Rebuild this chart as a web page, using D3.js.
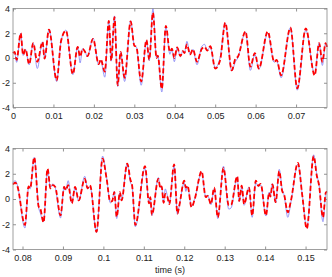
<!DOCTYPE html>
<html>
<head>
<meta charset="utf-8">
<script src="https://cdn.jsdelivr.net/npm/d3@7"></script>
<style>
  body { margin: 0; background: #fff; }
  svg { display: block; font-family: "Liberation Sans", Arial, sans-serif; }
  .tick text { font-size: 9px; fill: #222; }
  .domain { display: none; }
  .tick line { stroke: #777; stroke-width: 0.8; }
</style>
</head>
<body>
<svg id="chart" width="332" height="277"></svg>
<script>
// top panel: 0 .. 0.0777 s
var topTime = [0, 0.0004, 0.0009, 0.0019, 0.0025, 0.0031, 0.0040, 0.0050, 0.0060, 0.0073,
  0.0078, 0.0089, 0.0108, 0.0119, 0.0131, 0.0148, 0.0160, 0.0166, 0.0172, 0.0179,
  0.0184, 0.0198, 0.0212, 0.0217, 0.0227, 0.0237, 0.0243, 0.0251, 0.0259, 0.0266,
  0.0276, 0.0291, 0.0300, 0.0305, 0.0317, 0.0330, 0.0337, 0.0346, 0.0355, 0.0358,
  0.0368, 0.0378, 0.0388, 0.0393, 0.0399, 0.0406, 0.0414, 0.0420, 0.0424, 0.0430,
  0.0438, 0.0445, 0.0455, 0.0467, 0.0474, 0.0480, 0.0488, 0.0500, 0.0512, 0.0525,
  0.0541, 0.0550, 0.0556, 0.0575, 0.0587, 0.0598, 0.0608, 0.0630, 0.0646, 0.0652,
  0.0663, 0.0686, 0.0703, 0.0724, 0.0746, 0.0757, 0.0765, 0.0773, 0.07765];
var topRed = [0.4, 0.5, -0.15, 2.0, 0.25, 0.7, -0.5, 1.2, -0.3, 1.3,
  -0.05, 2.3, -1.8, 1.4, 2.2, -1.3, 0.9, 0.1, 0.75, 0.45,
  0.15, 1.55, -0.5, -0.1, -1.1, 3.0, -0.2, 3.3, -2.2, 0.5,
  -1.6, 2.95, 1.0, 0.9, -1.9, 1.45, -0.15, 3.65, 0.0, 0.2,
  -2.5, 2.6, 0.5, 0.75, 0.0, 0.85, 0.15, 0.55, 0.4, 1.1,
  0.3, 0.7, -0.3, 0.75, 0.9, 0.6, 0.95, -0.85, -0.2, 2.85,
  -1.0, -0.05, 0.1, 2.15, -0.7, 0.4, -0.85, 2.15, -0.3, -0.15,
  -1.4, 2.45, -2.45, 2.4, -1.4, 1.2, -0.3, 1.2, 0.9];
var topBlue = [0.4, 0.45, -0.35, 2.0, 0.2, 0.7, -0.55, 1.2, -0.85, 1.3,
  -0.05, 2.3, -1.9, 1.4, 2.25, -1.35, 0.9, -0.4, 0.75, 0.45,
  0.1, 1.6, -0.55, -0.2, -1.55, 3.0, -0.25, 3.4, -2.3, 0.45,
  -1.9, 3.0, 1.0, 0.9, -2.2, 1.4, -0.2, 4.0, 0.0, 0.2,
  -2.75, 2.5, 0.3, 0.7, -0.3, 0.85, 0.1, 0.6, 0.4, 1.35,
  0.3, 0.7, -0.55, 0.95, 1.1, 0.6, 0.9, -0.8, 0.0, 2.8,
  -1.05, -0.3, 0.0, 2.1, -1.0, 0.3, -0.9, 2.0, -0.35, -0.2,
  -1.6, 2.45, -2.6, 2.25, -1.3, 1.2, -0.6, 1.2, 0.9];

// bottom panel: 0.0777 .. 0.1553 s
var botTime = [0.07765, 0.0782, 0.0787, 0.0806, 0.0815, 0.0819, 0.0829, 0.0840, 0.0844, 0.0852,
  0.0862, 0.0869, 0.0875, 0.0881, 0.0894, 0.0903, 0.0907, 0.0913, 0.0922, 0.0930,
  0.0939, 0.0954, 0.0961, 0.0967, 0.0983, 0.0998, 0.1008, 0.1017, 0.1022, 0.1027,
  0.1033, 0.1041, 0.1045, 0.1059, 0.1067, 0.1071, 0.1079, 0.1103, 0.1113, 0.1116,
  0.1120, 0.1136, 0.1141, 0.1144, 0.1149, 0.1153, 0.1158, 0.1163, 0.1175, 0.1183,
  0.1188, 0.1200, 0.1204, 0.1208, 0.1218, 0.1226, 0.1243, 0.1253, 0.1258, 0.1266,
  0.1274, 0.1283, 0.1297, 0.1310, 0.1316, 0.1331, 0.1336, 0.1342, 0.1348, 0.1360,
  0.1368, 0.1377, 0.1383, 0.1389, 0.1402, 0.1410, 0.1413, 0.1418, 0.1426, 0.1435,
  0.1442, 0.1447, 0.1456, 0.1464, 0.1481, 0.1492, 0.1503, 0.1520, 0.1528, 0.1533,
  0.1543, 0.1550, 0.1553];
var botRed = [1.15, 1.3, 1.05, -2.05, 1.0, 0.85, 3.3, -0.6, -0.75, -1.85,
  2.4, 0.85, 1.1, 0.95, -1.3, 0.95, 0.7, 1.1, -0.35, 0.95,
  -0.1, 1.6, 0.85, 1.1, -2.6, 3.2, 1.6, -0.2, -0.15, 0.55,
  -1.4, 0.55, -0.1, 2.8, 1.5, 1.1, -2.05, 2.6, -0.35, 0.15,
  -1.25, 1.6, 0.85, 1.0, -0.3, 0.4, 0.2, -0.4, 2.75, -1.15,
  -0.5, 1.45, 0.9, 1.05, -0.65, 0.0, 2.2, 0.15, 0.25, -0.4,
  0.9, -1.45, 2.45, -0.5, -0.45, 1.8, -0.15, 1.05, -0.4, 0.9,
  -1.3, 1.45, 1.05, 1.2, -1.3, 0.5, 0.2, 1.15, -0.25, 2.2,
  0.65, 0.35, -1.05, -0.1, 2.85, 0.25, -2.35, 3.4, 1.8, 1.15,
  -1.45, 0.5, 0.6];
var botBlue = [1.3, 1.45, 1.15, -2.3, 0.9, 0.8, 3.3, -0.7, -1.1, -1.8,
  2.3, 0.9, 1.2, 0.9, -1.5, 1.0, 0.7, 1.45, -0.3, 0.9,
  -0.15, 1.8, 0.8, 1.0, -2.65, 3.4, 1.7, -0.3, -0.1, 0.6,
  -1.55, 0.5, -0.1, 2.8, 1.3, 1.0, -2.2, 2.45, -0.3, 0.1,
  -1.3, 1.7, 0.9, 1.0, -0.3, 0.8, 0.3, -0.35, 2.65, -1.2,
  -0.45, 1.3, 0.6, 1.0, -0.6, 0.05, 2.1, 0.2, 0.3, -0.45,
  0.8, -1.55, 2.6, -0.8, -0.7, 1.75, -0.2, 0.95, -0.5, 0.95,
  -1.45, 1.3, 1.0, 1.1, -1.35, 0.55, 0.25, 1.2, -0.3, 2.35,
  0.8, 0.3, -1.45, -0.2, 2.75, 0.3, -2.3, 3.5, 1.9, 1.2,
  -1.8, 0.45, 0.6];

var topTicks = [0, 0.01, 0.02, 0.03, 0.04, 0.05, 0.06, 0.07];
var botTicks = [0.08, 0.09, 0.1, 0.11, 0.12, 0.13, 0.14, 0.15];
var yTicks = [-4, -2, 0, 2, 4];

var svg = d3.select('#chart');
var left = 13, right = 327;

function renderPanel(time, red, blue, domain, top, bottom, xTicks) {
  var x = d3.scaleLinear().domain(domain).range([left, right]);
  var y = d3.scaleLinear().domain([-4, 4]).range([bottom, top]);
  var g = svg.append('g');

  g.append('rect')
    .attr('x', left).attr('y', top)
    .attr('width', right - left).attr('height', bottom - top)
    .attr('fill', '#fff');

  var fmt = d => String(+d.toFixed(2));

  g.append('g')
    .attr('transform', `translate(0,${bottom})`)
    .call(d3.axisBottom(x).tickValues(xTicks).tickFormat(fmt).tickSize(-3).tickPadding(5));
  g.append('g')
    .attr('transform', `translate(0,${top})`)
    .call(d3.axisTop(x).tickValues(xTicks).tickFormat('').tickSize(-3));
  g.append('g')
    .attr('transform', `translate(${left},0)`)
    .call(d3.axisLeft(y).tickValues(yTicks).tickFormat(fmt).tickSize(-3).tickPadding(3));
  g.append('g')
    .attr('transform', `translate(${right},0)`)
    .call(d3.axisRight(y).tickValues(yTicks).tickFormat('').tickSize(-3));

  var line = d3.line()
    .x((d, i) => x(time[i]))
    .y(d => y(d))
    .curve(d3.curveMonotoneX);

  g.append('path')
    .attr('d', line(blue))
    .attr('fill', 'none')
    .attr('stroke', '#8a8af5')
    .attr('stroke-width', 0.9);

  g.append('path')
    .attr('d', line(red))
    .attr('fill', 'none')
    .attr('stroke', '#f00')
    .attr('stroke-width', 1.8)
    .attr('stroke-dasharray', '5,2.5');

  g.append('rect')
    .attr('x', left).attr('y', top)
    .attr('width', right - left).attr('height', bottom - top)
    .attr('fill', 'none')
    .attr('stroke', '#888')
    .attr('stroke-width', 0.8);
}

renderPanel(topTime, topRed, topBlue, [0, 0.07765], 8.5, 107.5, topTicks);
renderPanel(botTime, botRed, botBlue, [0.07765, 0.1553], 148.5, 249.5, botTicks);

svg.append('text')
  .attr('x', 170)
  .attr('y', 273)
  .attr('text-anchor', 'middle')
  .attr('font-size', 9)
  .attr('fill', '#222')
  .text('time (s)');
</script>
</body>
</html>
